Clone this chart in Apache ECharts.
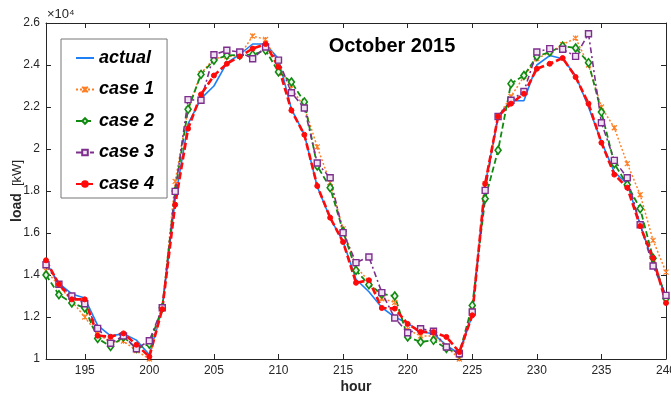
<!DOCTYPE html>
<html>
<head>
<meta charset="utf-8">
<script src="https://cdn.jsdelivr.net/npm/echarts@6/dist/echarts.min.js"></script>
<style>html,body{margin:0;padding:0;background:#fff}#c{width:671px;height:396px}</style>
</head>
<body>
<div id="c"></div>
<script>
// hours on x axis
const hours = [192,193,194,195,196,197,198,199,200,201,202,203,204,205,206,207,208,209,210,211,212,213,214,215,216,217,218,219,220,221,222,223,224,225,226,227,228,229,230,231,232,233,234,235,236,237,238,239,240];
// load in kW
const actual = [14600,13600,13100,12900,11600,11100,11200,10900,10200,12400,17600,21200,22400,23000,24100,24500,25000,25000,24300,21900,20700,18200,16700,15600,13800,13200,12450,12000,11700,11300,11200,10650,10250,12100,18300,21550,22300,22300,24000,24450,24300,23500,22000,20350,18900,18350,16400,14600,12950];
const case1 = [14200,13500,12750,12000,11200,10800,10850,10400,10000,12400,18460,21900,23600,24300,24400,24450,25380,25220,24000,22900,22000,20100,18400,16200,14400,13700,12870,12700,11400,11100,11100,10600,10000,12300,18350,21550,22500,23450,24300,24600,24970,25280,24000,22000,21010,19300,17820,15650,14140];
const case2 = [14000,13060,12670,12430,10980,10600,11050,10500,10710,12440,18000,21890,23550,24230,24460,24470,24490,24700,23670,23190,22240,19190,18160,16080,14220,13540,13100,13000,11050,10810,10890,10500,10250,12550,17630,19940,23110,23500,24410,24620,24900,24810,24110,21760,19300,18300,17160,14800,12870];
const case3 = [14490,13560,13000,12630,11460,10750,11100,10490,10870,12440,17980,22350,22320,24490,24700,24620,24300,24860,24230,22680,21950,19330,18630,16020,14590,14860,13160,11950,11250,11440,11320,10570,10250,12240,18030,21550,22320,22740,24620,24780,24750,24410,25490,21250,19460,18630,16390,14430,13030];
const case4 = [14700,13560,12840,12840,11110,11060,11220,10680,10110,12370,17350,20970,22600,23500,24060,24410,24780,25000,23900,21840,20680,18240,16730,15570,13630,13750,12430,12400,11670,11290,11280,11050,10330,12080,18350,21550,22160,22630,23820,24060,24330,23430,22160,20300,18780,18160,16330,14810,12670];
// tick labels
const xTicks = [195,200,205,210,215,220,225,230,235,240];
const yTickLabels = ['1','1.2','1.4','1.6','1.8','2','2.2','2.4','2.6'];

const pair = arr => hours.map((h,i)=>[h,arr[i]]);
const font = '"Liberation Sans", Arial, sans-serif';
const tickColor = '#262626';

const chart = echarts.init(document.getElementById('c'), null, {renderer:'canvas'});
chart.setOption({
  animation:false,
  backgroundColor:'#fff',
  title:{
    text:'October 2015', left:387, top:31, textAlign:'center',
    textStyle:{fontFamily:font,fontSize:20,fontWeight:'bold',color:'#000'}
  },
  graphic:[{
    type:'text', left:47, top:8,
    style:{text:'×10⁴', font:'13px '+font, fill:tickColor}
  }],
  grid:{left:46, right:5, top:23, bottom:37, containLabel:false, outerBoundsMode:'none'},
  legend:{
    orient:'vertical', left:61, top:39,
    padding:[10,13,5,14], itemGap:13.5, itemWidth:18, itemHeight:7,
    borderColor:'#777', borderWidth:1, backgroundColor:'#fff',
    selectedMode:false,
    textStyle:{fontFamily:font,fontSize:18,fontWeight:'bold',fontStyle:'italic',color:'#000'},
    data:[{name:'actual', itemStyle:{opacity:0}},'case 1','case 2','case 3','case 4']
  },
  xAxis:[{
    type:'value', min:192, max:240, position:'bottom',
    name:'hour', nameLocation:'middle', nameGap:21, nameMoveOverlap:false,
    nameTextStyle:{fontFamily:font,fontSize:14,fontWeight:'bold',color:tickColor},
    axisLine:{onZero:false,lineStyle:{color:tickColor,width:1}},
    axisTick:{inside:true,length:5,lineStyle:{color:tickColor},customValues:xTicks},
    axisLabel:{customValues:xTicks,margin:6,fontFamily:font,fontSize:12,color:tickColor},
    splitLine:{show:false}
  },{
    type:'value', min:192, max:240, position:'top',
    axisLine:{onZero:false,lineStyle:{color:tickColor,width:1}},
    axisTick:{inside:true,length:5,lineStyle:{color:tickColor},customValues:xTicks},
    axisLabel:{show:false}, splitLine:{show:false}
  }],
  yAxis:[{
    type:'value', min:10000, max:26000, interval:2000, position:'left',
    name:'{b|load}{n|  [kW]}', nameLocation:'middle', nameGap:22, nameRotate:90, nameMoveOverlap:false,
    nameTextStyle:{rich:{
      b:{fontFamily:font,fontSize:14,fontWeight:'bold',color:tickColor},
      n:{fontFamily:font,fontSize:13,color:tickColor}
    }},
    axisLine:{onZero:false,lineStyle:{color:tickColor,width:1}},
    axisTick:{inside:true,length:5,lineStyle:{color:tickColor}},
    axisLabel:{margin:6,fontFamily:font,fontSize:12,color:tickColor,
      formatter:(v)=>yTickLabels[Math.round((v-10000)/2000)]},
    splitLine:{show:false}
  },{
    type:'value', min:10000, max:26000, interval:2000, position:'right',
    axisLine:{onZero:false,lineStyle:{color:tickColor,width:1}},
    axisTick:{inside:true,length:5,lineStyle:{color:tickColor}},
    axisLabel:{show:false}, splitLine:{show:false}
  }],
  series:[
    {name:'actual', type:'line', data:pair(actual), symbol:'none',
     lineStyle:{color:'#1f80f5',width:1.6}, itemStyle:{color:'#1f80f5'}},
    {name:'case 1', type:'line', data:pair(case1),
     symbol:'path://M0,0L10,10M10,0L0,10M5,0L5,10', symbolSize:5,
     lineStyle:{color:'#ff7f24',width:1.5,type:[2,2]},
     itemStyle:{color:'#ff7f24',borderColor:'#ff7f24',borderWidth:1.2}},
    {name:'case 2', type:'line', data:pair(case2),
     symbol:'diamond', symbolSize:[6,8],
     lineStyle:{color:'#108a10',width:1.8,type:[6,3]},
     itemStyle:{color:'#e8f4e8',borderColor:'#108a10',borderWidth:1.6}},
    {name:'case 3', type:'line', data:pair(case3),
     symbol:'rect', symbolSize:6,
     lineStyle:{color:'#7e2f8e',width:1.6,type:[6,3,2,3]},
     itemStyle:{color:'#efe3f2',borderColor:'#7e2f8e',borderWidth:1.4}},
    {name:'case 4', type:'line', data:pair(case4),
     symbol:'circle', symbolSize:5,
     lineStyle:{color:'#ff0a0a',width:2.6,type:[7,3]},
     itemStyle:{color:'#ff0a0a',borderColor:'#ff0a0a',borderWidth:1}}
  ]
});
</script>
</body>
</html>
